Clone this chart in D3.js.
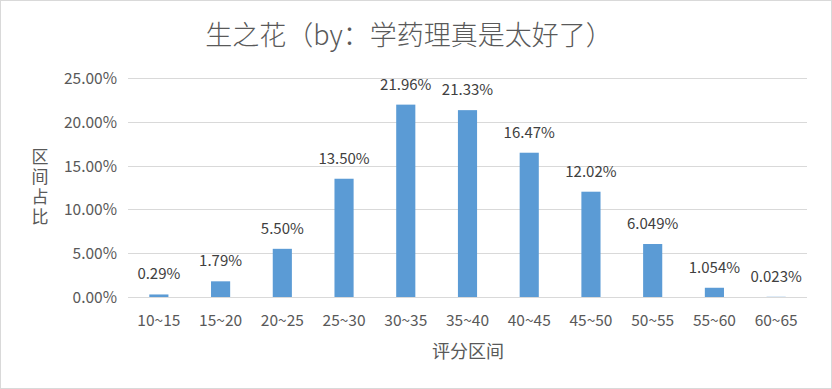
<!DOCTYPE html>
<html><head><meta charset="utf-8">
<script src="https://cdn.jsdelivr.net/npm/d3@7"></script>
<style>
body{margin:0;background:#fff;}
text{font-family:"Noto Sans CJK SC","Open Sans",sans-serif;}
</style></head>
<body><svg id="c" width="832" height="389"></svg>
<script>
const categories=["10~15","15~20","20~25","25~30","30~35","35~40","40~45","45~50","50~55","55~60","60~65"];
const values=[0.29,1.79,5.50,13.50,21.96,21.33,16.47,12.02,6.049,1.054,0.023];
const valueLabels=["0.29%","1.79%","5.50%","13.50%","21.96%","21.33%","16.47%","12.02%","6.049%","1.054%","0.023%"];
const yTicks=[0,5,10,15,20,25];
const title="生之花（by：学药理真是太好了）";
const xTitle="评分区间";
const yTitle="区间占比";

const svg=d3.select("#c");
svg.append("rect").attr("x",0.5).attr("y",0.5).attr("width",831).attr("height",388).attr("fill","#fff").attr("stroke","#d9d9d9");

const x=d3.scaleBand().domain(categories).range([128,807]).paddingInner(0.69).paddingOuter(0.345);
const y=d3.scaleLinear().domain([0,25]).range([297,78]);

const grid=svg.append("g");
grid.selectAll("line").data(yTicks).join("line")
 .attr("x1",128).attr("x2",807).attr("y1",d=>Math.round(y(d))+0.5).attr("y2",d=>Math.round(y(d))+0.5)
 .attr("stroke","#d9d9d9").attr("stroke-width",1);

const yAxis=d3.axisLeft(y).tickValues(yTicks).tickSize(0).tickPadding(0).tickFormat(d=>d.toFixed(2)+"%");
const ya=svg.append("g").attr("transform","translate(117,0)").call(yAxis);
ya.select(".domain").remove();
ya.selectAll("text").attr("fill","#595959").style("font-size","15.5px").attr("dy","0.35em");

svg.append("g").selectAll("rect").data(values).join("rect")
 .attr("x",(d,i)=>x(categories[i])).attr("width",x.bandwidth())
 .attr("y",d=>y(d)).attr("height",d=>y(0)-y(d)).attr("fill","#5b9bd5");

svg.append("line").attr("x1",128).attr("x2",807).attr("y1",297.5).attr("y2",297.5).attr("stroke","#d9d9d9");

const xAxis=d3.axisBottom(x).tickSize(0).tickPadding(0);
const xa=svg.append("g").attr("transform","translate(0,321)").call(xAxis);
xa.select(".domain").remove();
xa.selectAll("text").attr("fill","#595959").style("font-size","15.5px").attr("dy","0.35em");

svg.append("g").selectAll("text").data(values).join("text")
 .attr("x",(d,i)=>x(categories[i])+x.bandwidth()/2).attr("y",d=>y(d)-15)
 .attr("text-anchor","middle").attr("fill","#404040").style("font-size","15px")
 .text((d,i)=>valueLabels[i]);

svg.append("text").attr("x",409).attr("y",45).attr("text-anchor","middle").attr("fill","#595959")
 .style("font-size","27px").style("font-weight","300").text(title);

svg.append("text").attr("x",468).attr("y",358).attr("text-anchor","middle").attr("fill","#595959")
 .style("font-size","18px").text(xTitle);

svg.append("text").attr("x",40).attr("y",148).attr("fill","#595959")
 .style("font-size","17px").style("writing-mode","vertical-rl").style("text-orientation","upright")
 .style("letter-spacing","3px").text(yTitle);
</script></body></html>
